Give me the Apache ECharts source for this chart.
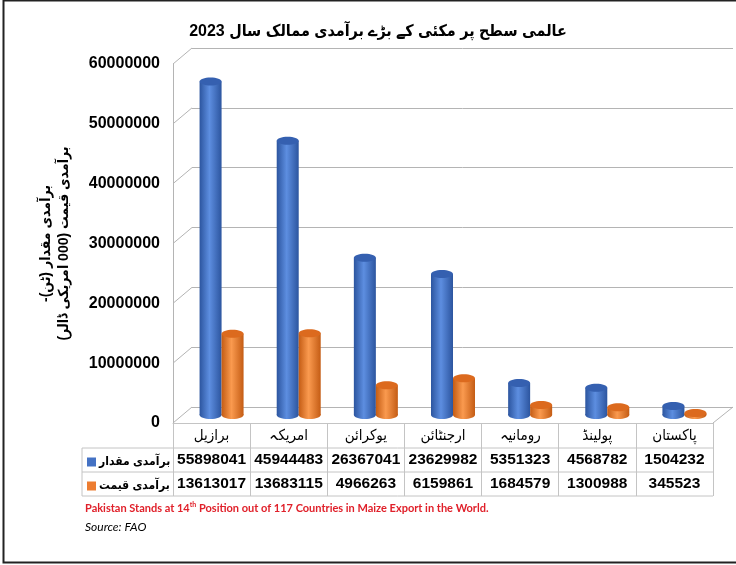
<!DOCTYPE html>
<html>
<head>
<meta charset="utf-8">
<script src="https://cdn.jsdelivr.net/npm/echarts@6/dist/echarts.min.js"></script>
<style>
html,body{margin:0;padding:0;background:#fff;}
#chart{width:736px;height:565px;}
</style>
</head>
<body>
<div id="chart"></div>
<script>
// ---- data ----
const categories = ['برازیل', 'امریکہ', 'یوکرائن', 'ارجنٹائن', 'رومانیہ', 'پولینڈ', 'پاکستان'];
const seriesNames = ['برآمدی مقدار', 'برآمدی قیمت'];
const quantity = [55898041, 45944483, 26367041, 23629982, 5351323, 4568782, 1504232];
const exportValue = [13613017, 13683115, 4966263, 6159861, 1684579, 1300988, 345523];
const yTicks = [0, 10000000, 20000000, 30000000, 40000000, 50000000, 60000000];
const titleText = 'عالمی سطح پر مکئی کے بڑے برآمدی ممالک سال 2023';
const yTitleLines = ['برآمدی مقدار (ٹن)-', 'برآمدی قیمت (000 امریکی ڈالر)'];
const noteText = ['Pakistan Stands at 14', 'th', ' Position out of 117 Countries in Maize Export in the World.'];
const sourceText = 'Source: FAO';

// ---- layout / style ----
const RLE = '\u202B', PDF = '\u202C';
const AR = 'Liberation Sans, DejaVu Sans Condensed, DejaVu Sans, sans-serif';
const NUM = 'Liberation Sans, Arial, sans-serif';
const yMin = yTicks[0], yMax = yTicks[yTicks.length - 1], yInt = yTicks[1] - yTicks[0];
const back = {left: 192, top: 48, width: 541, height: 359};
const mid = {left: 183, top: 57, width: 540, height: 358};
const front = {left: 173, top: 64, width: 540, height: 359};
const depth = [19, 16];
const barW = 22;
const tableLeft = 82;
const rowLines = [448, 472, 496];
const gridColor = '#b4b4b4';
const tableColor = '#c4c4c4';

const blue = {base: '#4472C4', dark: '#2c559f', light: '#5d8ee0', cap: '#3560b0'};
const orange = {base: '#ED7D31', dark: '#c45c14', light: '#fa9a4f', cap: '#dc6a1e'};

function cylinder(pal, side) {
  return function (params, api) {
    const i = api.value(0);
    const top = api.coord([i, api.value(1)]);
    const base = api.coord([i, 0]);
    const x0 = side < 0 ? top[0] - barW : top[0];
    const cx = x0 + barW / 2;
    const grad = new echarts.graphic.LinearGradient(0, 0, 1, 0, [
      {offset: 0, color: pal.dark},
      {offset: 0.45, color: pal.light},
      {offset: 1, color: pal.dark}
    ]);
    return {
      type: 'group',
      children: [
        {type: 'ellipse', shape: {cx: cx, cy: base[1], rx: barW / 2, ry: 4}, style: {fill: grad}},
        {type: 'rect', shape: {x: x0, y: top[1], width: barW, height: base[1] - top[1]}, style: {fill: grad}},
        {type: 'ellipse', shape: {cx: cx, cy: top[1], rx: barW / 2, ry: 4}, style: {fill: pal.cap}}
      ]
    };
  };
}

const chart = echarts.init(document.getElementById('chart'), null, {renderer: 'canvas'});

const option = {
  animation: false,
  backgroundColor: '#fff',
  grid: [
    Object.assign({containLabel: false}, back),
    Object.assign({containLabel: false}, mid),
    Object.assign({containLabel: false}, front)
  ],
  xAxis: [
    {gridIndex: 0, type: 'value', min: 0, max: 1, show: false},
    {gridIndex: 1, type: 'category', data: categories, show: false},
    {
      gridIndex: 2, type: 'category', data: categories,
      axisLine: {show: true, lineStyle: {color: tableColor, width: 1}},
      axisTick: {show: true, length: 73, interval: 0, lineStyle: {color: tableColor, width: 1}},
      axisLabel: {
        interval: 0, margin: 0,
        formatter: function (v, idx) {
          return '{c|' + v + '}\n{v|' + quantity[idx] + '}\n{v|' + exportValue[idx] + '}';
        },
        rich: {
          c: {fontFamily: AR, fontSize: 15, color: '#000', lineHeight: 25, height: 25},
          v: {fontFamily: NUM, fontSize: 15.5, fontWeight: 'bold', color: '#000', lineHeight: 24, height: 24}
        }
      }
    }
  ],
  yAxis: [
    {gridIndex: 0, type: 'value', min: yMin, max: yMax, interval: yInt,
      axisLabel: {show: false}, axisLine: {show: false}, axisTick: {show: false},
      splitLine: {show: true, lineStyle: {color: gridColor, width: 1}}},
    {gridIndex: 1, type: 'value', min: yMin, max: yMax, interval: yInt, show: false},
    {gridIndex: 2, type: 'value', min: yMin, max: yMax, interval: yInt,
      axisLine: {show: true, lineStyle: {color: gridColor}},
      axisTick: {show: false}, splitLine: {show: false},
      axisLabel: {margin: 13, fontFamily: AR, fontSize: 16, fontWeight: 'bold', color: '#000',
        formatter: function (v) { return String(v); }},
      name: RLE + yTitleLines[0] + PDF + '\n' + RLE + yTitleLines[1] + PDF,
      nameLocation: 'middle', nameRotate: 90, nameGap: 100,
      nameTextStyle: {fontFamily: AR, fontSize: 14, fontWeight: 'bold', color: '#000', lineHeight: 18}}
  ],
  legend: {
    orient: 'vertical', left: 82, top: 450,
    itemWidth: 9, itemHeight: 9, itemGap: 10,
    icon: 'rect', selectedMode: false,
    data: seriesNames,
    textStyle: {fontFamily: AR, fontSize: 12, fontWeight: 'bold', color: '#000', lineHeight: 14, padding: [0, 0, 0, -2]}
  },
  series: [
    {
      type: 'custom', name: 'wall', xAxisIndex: 0, yAxisIndex: 0, silent: true, clip: false, z: 1,
      data: yTicks.map(function (t) { return [0, t]; }),
      encode: {x: 0, y: 1},
      renderItem: function (params, api) {
        const p = api.coord([0, api.value(1)]);
        const children = [{type: 'line', shape: {x1: p[0] - depth[0], y1: p[1] + depth[1], x2: p[0], y2: p[1]},
          style: {stroke: gridColor, lineWidth: 1}}];
        if (api.value(1) === yMin) {
          const q = api.coord([1, yMin]);
          children.push({type: 'line', shape: {x1: q[0] - depth[0] - 1, y1: q[1] + depth[1], x2: q[0], y2: q[1]},
            style: {stroke: gridColor, lineWidth: 1}});
        }
        return {type: 'group', children: children};
      }
    },
    {
      type: 'custom', name: seriesNames[0], xAxisIndex: 1, yAxisIndex: 1, z: 3,
      itemStyle: {color: blue.base},
      data: quantity.map(function (v, i) { return [i, v]; }),
      encode: {x: 0, y: 1},
      renderItem: cylinder(blue, -1)
    },
    {
      type: 'custom', name: seriesNames[1], xAxisIndex: 1, yAxisIndex: 1, z: 4,
      itemStyle: {color: orange.base},
      data: exportValue.map(function (v, i) { return [i, v]; }),
      encode: {x: 0, y: 1},
      renderItem: cylinder(orange, 1)
    }
  ],
  graphic: [
    {type: 'rect', shape: {x: 3.5, y: 0.5, width: 760, height: 562}, style: {fill: null, stroke: '#222', lineWidth: 2}, silent: true, z: 100},
    {type: 'text', x: 378, y: 32, style: {text: RLE + titleText + PDF, font: 'bold 16px ' + AR, fill: '#000', textAlign: 'center', textVerticalAlign: 'middle'}},
    {type: 'line', shape: {x1: tableLeft, y1: rowLines[0], x2: front.left + front.width, y2: rowLines[0]}, style: {stroke: tableColor, lineWidth: 1}},
    {type: 'line', shape: {x1: tableLeft, y1: rowLines[1], x2: front.left + front.width, y2: rowLines[1]}, style: {stroke: tableColor, lineWidth: 1}},
    {type: 'line', shape: {x1: tableLeft, y1: rowLines[2], x2: front.left + front.width, y2: rowLines[2]}, style: {stroke: tableColor, lineWidth: 1}},
    {type: 'line', shape: {x1: tableLeft, y1: rowLines[0], x2: tableLeft, y2: rowLines[2]}, style: {stroke: tableColor, lineWidth: 1}},
    {type: 'text', x: 85, y: 508, style: {
      text: '{r|' + noteText[0] + '}{s|' + noteText[1] + '}{r|' + noteText[2] + '}',
      rich: {
        r: {font: 'bold 11px Lato, Open Sans, sans-serif', fill: '#e0202a', lineHeight: 14},
        s: {font: 'bold 7px Lato, Open Sans, sans-serif', fill: '#e0202a', verticalAlign: 'top', lineHeight: 14}
      },
      textVerticalAlign: 'middle'}},
    {type: 'text', x: 85, y: 527, style: {text: sourceText, font: 'italic 12px Lato, Open Sans, sans-serif', fill: '#000', textVerticalAlign: 'middle'}}
  ]
};
chart.setOption(option);
</script>
</body>
</html>
